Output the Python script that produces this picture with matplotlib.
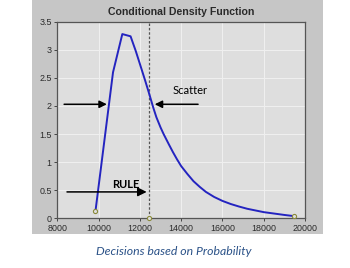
import matplotlib.pyplot as plt
from matplotlib.patches import Rectangle

# density curve
x_vals = [9850, 10700, 11150, 11550, 11800, 12000, 12250, 12450, 12650, 12800,
          13000, 13150, 13400, 13600, 13800, 14000, 14300, 14600, 14900, 15200,
          15600, 16000, 16400, 16800, 17200, 17600, 18000, 18400, 19000, 19450]
y_vals = [0.13, 2.60, 3.28, 3.24, 2.98, 2.75, 2.46, 2.22, 1.97, 1.80,
          1.62, 1.50, 1.32, 1.18, 1.05, 0.93, 0.79, 0.66, 0.56, 0.47,
          0.38, 0.31, 0.255, 0.21, 0.17, 0.14, 0.11, 0.09, 0.06, 0.04]

rule_x = 12450
end_points_x = [9850, 12450, 19450]
end_points_y = [0.13, 0.0, 0.04]

x_ticks = [8000, 10000, 12000, 14000, 16000, 18000, 20000]
y_ticks = [0, 0.5, 1, 1.5, 2, 2.5, 3, 3.5]
y_tick_labels = ['0', '0.5', '1', '1.5', '2', '2.5', '3', '3.5']

fig = plt.figure(figsize=(3.5, 2.68), dpi=100)
fig.patch.set_facecolor('white')

# grey panel behind the chart
fig.add_artist(Rectangle((32 / 350, 34 / 268), 291 / 350, 234 / 268,
                         transform=fig.transFigure, facecolor='#c6c6c6',
                         edgecolor='none', zorder=0))

ax = fig.add_axes([0.1637, 0.1854, 0.7077, 0.7336])
ax.set_facecolor('#dedede')
ax.set_xlim(8000, 20000)
ax.set_ylim(0, 3.5)
ax.set_xticks(x_ticks)
ax.set_yticks(y_ticks)
ax.set_yticklabels(y_tick_labels)
ax.grid(True, color='#efefef', linewidth=0.8)
ax.set_axisbelow(True)
for s in ax.spines.values():
    s.set_color('#555555')
    s.set_linewidth(0.9)
ax.tick_params(axis='both', labelsize=6.4, colors='#444444', length=2.5, width=0.7, pad=1.5)
for lab in ax.get_xticklabels() + ax.get_yticklabels():
    lab.set_family('Liberation Sans')
    lab.set_color('#2a2a2a')

ax.plot(x_vals, y_vals, color='#2424c0', linewidth=1.4, zorder=3)
ax.axvline(rule_x, color='#555555', linestyle=(0, (2, 1.5)), linewidth=0.9, zorder=2)
ax.scatter(end_points_x, end_points_y, s=9, facecolor='#dedede',
           edgecolor='#8a8a3a', linewidth=0.8, zorder=4, clip_on=False)

ax.set_title('Conditional Density Function', fontsize=7.6, fontweight='bold',
             family='Liberation Sans', color='#2a2a2a', pad=5)

arrow = dict(arrowstyle='-|>', color='black', linewidth=1.1,
             mutation_scale=11, shrinkA=0, shrinkB=0)
ax.annotate('', xy=(10400, 2.03), xytext=(8330, 2.03), arrowprops=arrow,
            annotation_clip=False)
ax.annotate('', xy=(12720, 2.03), xytext=(14820, 2.03), arrowprops=arrow,
            annotation_clip=False)
ax.annotate('', xy=(12330, 0.47), xytext=(8470, 0.47),
            arrowprops=dict(arrowstyle='-|>', color='black', linewidth=1.1,
                            mutation_scale=13, shrinkA=0, shrinkB=0),
            annotation_clip=False)
ax.text(14430, 2.28, 'Scatter', fontsize=8, family='Lato', color='black',
        ha='center', va='center')
ax.text(11300, 0.60, 'RULE', fontsize=8, family='Lato', fontweight='bold',
        color='black', ha='center', va='center')

fig.text(0.495, 0.06, 'Decisions based on Probability', fontsize=8.8,
         family='Lato', style='italic', color='#2b5288', ha='center', va='center')

fig.savefig('out.png', dpi=100, facecolor='white')
